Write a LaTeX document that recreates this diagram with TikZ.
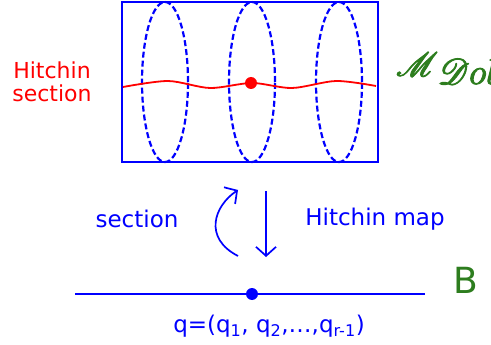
\documentclass[tikz,border=0pt]{standalone}
\usepackage{fontspec}
\setmainfont{DejaVu Sans}
\usepackage{mathrsfs}
\usetikzlibrary{shapes.geometric,arrows.meta,positioning}

\definecolor{dolgreen}{RGB}{45,125,30}
\newcommand{\heavytext}[1]{\special{pdf:literal direct 2 Tr 0.7 w}#1\special{pdf:literal direct 0 Tr}}

\begin{document}
\begin{tikzpicture}[
  x=1pt, y=-1pt,
  >={Straight Barb[length=9pt,width=20pt]},
  every node/.style={font=\fontsize{22}{23}\selectfont},
  fibre/.style={ellipse, draw=blue, line width=2.2pt, dash pattern=on 6pt off 3pt,
    minimum width=46pt, minimum height=160pt, inner sep=0pt},
  dot/.style={circle, fill, inner sep=0pt, minimum size=12pt},
  label/.style={blue, font=\fontsize{23}{26}\selectfont},
]
  \useasboundingbox (0,0) rectangle (491,345);

  % total space with the three fibres
  \node[draw=blue, line width=1.9pt, minimum width=256pt, minimum height=160pt,
    inner sep=0pt] (moduli) at (250,82) {};
  \node[fibre] (f1) at (165,82) {};
  \node[fibre] (f2) at (252,82) {};
  \node[fibre] (f3) at (339,82) {};

  % the section
  \draw[red, line width=1.8pt] plot[smooth] coordinates
    {(123,87) (168,81) (210,88) (252,83) (292,88) (336,81) (376,86)};
  \node[dot, red] (p) at (251,83) {};
  \node[red, align=center] (hs) at (52,82) {Hitchin\\section};
  \node[dolgreen, anchor=base west, inner sep=0pt, font=\fontsize{24.88}{26}\selectfont] (mdol) at (396,76)
    {\heavytext{\scalebox{1.35}{$\mathscr{M}$}\raisebox{-8pt}{\scalebox{1.45}{$\mathscr{D}ol$}}}};

  % maps
  \coordinate (mapTop) at (266,191);
  \coordinate (mapBot) at (266,257);
  \draw[->, blue, line width=1.7pt] (mapTop) -- (mapBot);
  \coordinate (secBot) at (238,256);
  \coordinate (secTop) at (238,190);
  \draw[->, blue, line width=1.7pt] (secBot) .. controls (203,238) and (214,206) .. (secTop);
  \node[label] (sec) at (137,219) {section};
  \node[label] (hmap) at (375,219) {Hitchin map};

  % base
  \coordinate (bl) at (75,294);
  \coordinate (br) at (425,294);
  \draw[blue, line width=1.7pt] (bl) -- (br);
  \node[dot, blue] (q) at (252,294) {};
  \node[dolgreen, font=\fontsize{36}{40}\selectfont] (base) at (466,280) {B};
  \node[label] (qlabel) at (269,326)
    {q=(q\textsubscript{1}, q\textsubscript{2},…,q\textsubscript{r-1})};
\end{tikzpicture}
\end{document}
